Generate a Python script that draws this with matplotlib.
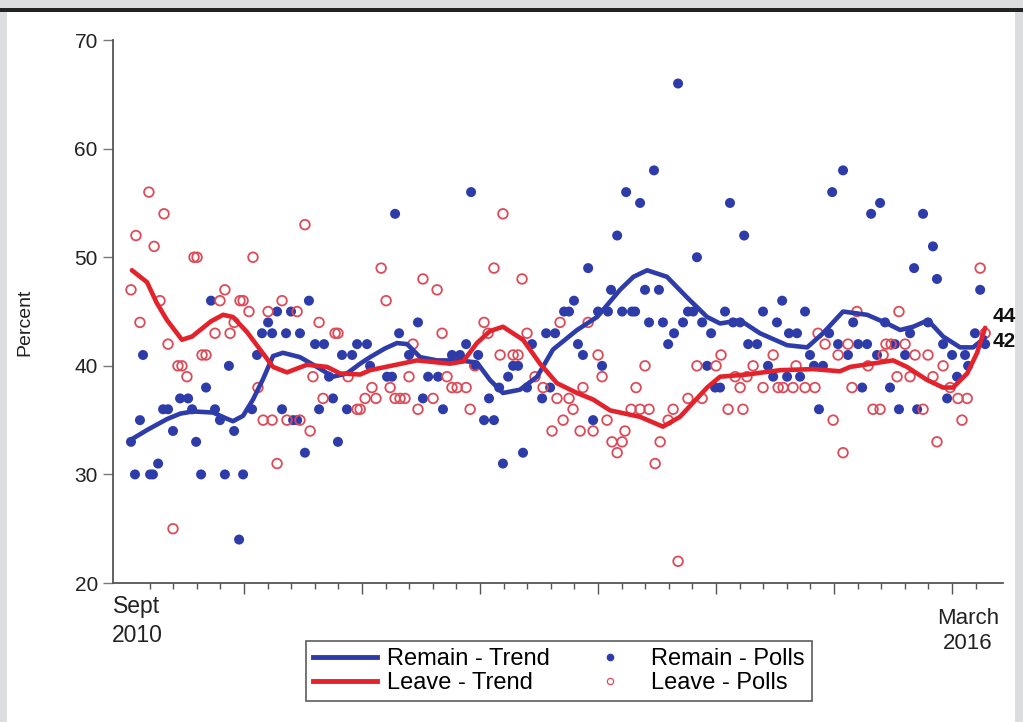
import matplotlib
matplotlib.use("Agg")
import matplotlib.pyplot as plt
from matplotlib.lines import Line2D
from matplotlib.patches import Rectangle

plt.rcParams['font.family'] = ['Liberation Sans', 'DejaVu Sans']

# x = time index (one unit per minor tick), y = percent
remain_t = [0.21, 0.38, 0.59, 0.72, 1.02, 1.14, 1.36, 1.57, 1.78, 1.99,
            2.29, 2.63, 2.80, 2.97, 3.18, 3.39, 3.60, 3.77, 3.98, 4.19,
            4.36, 4.58, 4.79, 4.96, 5.34, 5.55, 5.76, 6.02, 6.19, 6.40,
            6.61, 6.78, 6.99, 7.08, 7.25, 7.37, 7.58, 7.75, 8.01, 8.18,
            8.39, 8.60, 8.77, 8.98, 9.15, 9.36, 9.58, 9.79, 10.21, 10.34,
            11.06, 11.27, 11.40, 11.57, 11.99, 12.37, 12.58, 12.80, 13.22, 13.43,
            13.81, 14.15, 14.41, 14.62, 14.75, 14.92, 15.17, 15.38, 15.59, 15.81,
            15.97, 16.19, 16.40, 16.61, 16.82, 16.99, 17.20, 17.63, 17.80, 17.97,
            18.18, 18.56, 18.77, 18.98, 19.15, 19.36, 19.58, 19.79, 20.00, 20.17,
            20.42, 20.55, 20.81, 21.02, 21.19, 21.44, 21.57, 21.78, 21.99, 22.16,
            22.37, 22.58, 22.75, 22.97, 23.22, 23.39, 23.60, 23.81, 24.03, 24.19,
            24.41, 24.62, 24.79, 24.96, 25.17, 25.38, 25.59, 25.72, 26.02, 26.19,
            26.36, 26.74, 26.99, 27.20, 27.42, 27.58, 27.80, 28.01, 28.09, 28.43,
            28.56, 28.77, 28.98, 29.15, 29.36, 29.53, 29.79, 29.92, 30.17, 30.38,
            30.59, 30.81, 31.02, 31.19, 31.40, 31.57, 31.82, 31.95, 32.16, 32.37,
            32.58, 32.75, 33.01, 33.22, 33.39, 33.52, 33.77, 33.98, 34.19, 34.36,
            34.62, 34.79, 35.00, 35.21, 35.55, 35.68, 35.97, 36.19, 36.40]
remain_v = [33, 30, 35, 41, 30, 30, 31, 36, 36, 34,
            37, 37, 36, 33, 30, 38, 46, 36, 35, 30,
            40, 34, 24, 30, 36, 41, 43, 44, 43, 45,
            36, 43, 45, 35, 35, 43, 32, 46, 42, 36,
            42, 39, 37, 33, 41, 36, 41, 42, 42, 40,
            39, 39, 54, 43, 41, 44, 37, 39, 39, 36,
            41, 41, 42, 56, 40, 41, 35, 37, 35, 38,
            31, 39, 40, 40, 32, 38, 42, 37, 43, 38,
            43, 45, 45, 46, 42, 41, 49, 35, 45, 40,
            45, 47, 52, 45, 56, 45, 45, 55, 47, 44,
            58, 47, 44, 42, 43, 66, 44, 45, 45, 50,
            44, 40, 43, 38, 38, 45, 55, 44, 44, 52,
            42, 42, 45, 40, 39, 44, 46, 39, 43, 43,
            39, 45, 41, 40, 36, 40, 43, 56, 42, 58,
            41, 44, 42, 38, 42, 54, 41, 55, 44, 38,
            42, 36, 41, 43, 49, 36, 54, 44, 51, 48,
            42, 37, 41, 39, 41, 40, 43, 47, 42]

leave_t = [0.21, 0.42, 0.59, 0.97, 1.19, 1.44, 1.61, 1.78, 1.99, 2.20,
           2.37, 2.58, 2.88, 3.01, 3.22, 3.39, 3.77, 3.98, 4.19, 4.41,
           4.58, 4.83, 4.96, 5.21, 5.38, 5.59, 5.81, 6.02, 6.19, 6.40,
           6.61, 6.82, 7.25, 7.37, 7.58, 7.80, 7.92, 8.18, 8.35, 8.86,
           8.98, 9.41, 9.79, 9.92, 10.13, 10.42, 10.59, 10.81, 11.02, 11.19,
           11.40, 11.61, 11.82, 11.99, 12.16, 12.37, 12.58, 13.01, 13.18, 13.39,
           13.60, 13.81, 14.03, 14.41, 14.58, 14.79, 15.17, 15.34, 15.59, 15.85,
           15.97, 16.40, 16.61, 16.78, 16.99, 17.33, 17.67, 18.05, 18.26, 18.39,
           18.52, 18.77, 18.94, 19.24, 19.36, 19.58, 19.79, 20.00, 20.17, 20.38,
           20.59, 20.81, 21.02, 21.14, 21.40, 21.61, 21.78, 21.99, 22.16, 22.42,
           22.63, 22.97, 23.18, 23.39, 23.81, 24.19, 24.41, 25.00, 25.21, 25.51,
           25.81, 26.02, 26.14, 26.31, 26.57, 26.99, 27.42, 27.63, 27.84, 28.26,
           28.39, 28.77, 29.19, 29.32, 29.62, 29.96, 30.17, 30.38, 30.59, 30.76,
           30.97, 31.44, 31.65, 31.95, 32.08, 32.20, 32.42, 32.67, 32.75, 33.01,
           33.22, 33.43, 33.77, 33.98, 34.19, 34.36, 34.62, 34.92, 35.25, 35.42,
           35.64, 36.19, 36.40]
leave_v = [47, 52, 44, 56, 51, 46, 54, 42, 25, 40,
           40, 39, 50, 50, 41, 41, 43, 46, 47, 43,
           44, 46, 46, 45, 50, 38, 35, 45, 35, 31,
           46, 35, 45, 35, 53, 34, 39, 44, 37, 43,
           43, 39, 36, 36, 37, 38, 37, 49, 46, 38,
           37, 37, 37, 39, 42, 36, 48, 37, 47, 43,
           39, 38, 38, 38, 36, 40, 44, 43, 49, 41,
           54, 41, 41, 48, 43, 39, 38, 34, 37, 44,
           35, 37, 36, 34, 38, 44, 34, 41, 39, 35,
           33, 32, 33, 34, 36, 38, 36, 40, 36, 31,
           33, 35, 36, 22, 37, 40, 37, 40, 41, 36,
           39, 38, 36, 39, 40, 38, 41, 38, 38, 38,
           40, 38, 38, 43, 42, 35, 41, 32, 42, 38,
           45, 40, 36, 36, 41, 42, 42, 39, 45, 42,
           39, 41, 36, 41, 39, 33, 40, 38, 37, 35,
           37, 49, 43]

# smoothed trend lines
remain_trend_t = [0.21, 0.90, 1.74, 2.30, 2.84, 3.69, 4.20, 4.53, 4.96, 5.38,
                  5.81, 6.23, 6.65, 7.37, 8.09, 8.77, 9.36, 9.92, 10.34, 10.97,
                  11.48, 11.91, 12.46, 13.18, 14.15, 14.87, 15.42, 15.97, 16.69, 17.42,
                  18.09, 19.11, 19.96, 20.93, 21.50, 22.08, 22.92, 23.77, 24.62, 25.17,
                  26.02, 26.86, 28.01, 28.86, 29.53, 30.38, 31.40, 32.25, 32.80, 33.35,
                  33.98, 34.62, 35.34, 35.89, 36.40]
remain_trend_v = [33.2, 34.1, 35.1, 35.6, 35.8, 35.7, 35.2, 34.9, 35.4, 36.9,
                  38.8, 40.9, 41.2, 40.8, 39.9, 39.0, 39.3, 40.2, 40.8, 41.6,
                  42.1, 42.0, 40.8, 40.5, 40.5, 40.3, 38.7, 37.5, 37.8, 39.0,
                  41.5, 43.3, 44.5, 47.0, 48.2, 48.8, 48.2, 46.3, 44.5, 43.9,
                  44.2, 43.0, 41.9, 41.7, 43.0, 45.0, 44.7, 43.9, 43.3, 43.6,
                  44.2, 42.7, 41.7, 41.7, 42.6]

leave_trend_t = [0.25, 0.89, 1.30, 1.74, 2.37, 2.80, 3.14, 3.60, 4.11, 4.53,
                 5.13, 5.68, 6.23, 6.82, 7.67, 8.52, 9.07, 9.92, 10.34, 12.33,
                 13.73, 14.28, 14.87, 15.42, 15.97, 16.82, 17.54, 18.26, 19.11, 19.79,
                 20.51, 21.78, 22.75, 23.47, 24.62, 25.17, 26.31, 27.71, 29.11, 30.25,
                 30.68, 32.50, 33.09, 33.94, 34.62, 35.04, 35.64, 36.06, 36.40]
leave_trend_v = [48.8, 47.7, 45.8, 44.2, 42.4, 42.7, 43.3, 44.1, 44.7, 44.5,
                 43.1, 41.5, 39.9, 39.4, 40.1, 39.9, 39.3, 39.2, 39.6, 40.5,
                 40.2, 40.4, 42.1, 43.2, 43.6, 42.4, 40.2, 38.4, 37.5, 36.9,
                 35.9, 35.3, 34.4, 35.3, 38.0, 39.0, 39.2, 39.6, 39.7, 39.5,
                 39.9, 40.5, 39.9, 38.7, 38.0, 38.0, 39.3, 41.2, 43.5]

blue = '#2e3caa'
red = '#e3222b'
ring = '#de4b58'

fig = plt.figure(figsize=(10.23, 7.22), dpi=100, facecolor='#dcdddf')
# white page area and dark rule at top (screenshot frame)
fig.patches.append(Rectangle((7 / 1023, 0), 1008 / 1023, 710 / 722,
                             transform=fig.transFigure, facecolor='white',
                             edgecolor='none', zorder=-10))
fig.patches.append(Rectangle((0, 1 - 12 / 722), 1, 4 / 722,
                             transform=fig.transFigure, facecolor='#222222',
                             edgecolor='none', zorder=-10))

ax = fig.add_axes([0.1105, 0.1925, 0.870, 0.752])
ax.set_facecolor('none')

ax.scatter(remain_t, remain_v, s=52, color=blue, edgecolors='none', zorder=2)
ax.scatter(leave_t, leave_v, s=48, facecolors='none', edgecolors=ring,
           linewidths=1.3, zorder=2)
ax.plot(remain_trend_t, remain_trend_v, color=blue, lw=3.3, zorder=3,
        solid_capstyle='round', solid_joinstyle='round')
ax.plot(leave_trend_t, leave_trend_v, color=red, lw=3.3, zorder=3,
        solid_capstyle='round', solid_joinstyle='round')

ax.text(36.7, 44.5, '44', fontsize=15, fontweight='bold', va='center',
        ha='left', clip_on=False, color='#111111')
ax.text(36.7, 42.2, '42', fontsize=15, fontweight='bold', va='center',
        ha='left', clip_on=False, color='#111111')

ax.set_xlim(-0.55, 37.16)
ax.set_ylim(20, 70)
ax.set_yticks([20, 30, 40, 50, 60, 70])
ax.set_xticks([5, 10, 15, 20, 25, 30, 35])
ax.set_xticks([i for i in range(1, 37) if i % 5 != 0], minor=True)
ax.set_xticklabels([])

for s in ['top', 'right']:
    ax.spines[s].set_visible(False)
for s in ['left', 'bottom']:
    ax.spines[s].set_color('#555555')
    ax.spines[s].set_linewidth(1.3)

ax.tick_params(axis='y', length=7, width=1.0, color='#777777',
               labelsize=15, labelcolor='#222222', pad=4)
ax.tick_params(axis='x', which='major', length=8, width=1.0, color='#555555')
ax.tick_params(axis='x', which='minor', length=4, width=1.0, color='#555555')

fig.text(25 / 1023, 1 - 322 / 722, 'Percent', rotation=90, fontsize=14,
         ha='center', va='center', color='#222222')
fig.text(137 / 1023, 1 - 621 / 722, 'Sept\n2010', fontsize=16.5, ha='center',
         va='center', linespacing=1.3, color='#222222')
fig.text(968 / 1023, 1 - 631 / 722, 'March\n2016', fontsize=16, ha='center',
         va='center', linespacing=1.3, color='#222222')

handles = [Line2D([], [], color=blue, lw=3.5),
           Line2D([], [], color=red, lw=3.5),
           Line2D([], [], color=blue, marker='o', ls='none', markersize=4.5),
           Line2D([], [], color=ring, marker='o', ls='none', markersize=4.5,
                  markerfacecolor='none', markeredgewidth=0.9)]
labels = ['Remain - Trend', 'Leave - Trend', 'Remain - Polls', 'Leave - Polls']
leg = fig.legend(handles, labels, ncol=2, loc='center',
                 bbox_to_anchor=(310 / 1023, 17 / 722, 498 / 1023, 68 / 722),
                 fontsize=17, frameon=True, fancybox=False, handlelength=2.7,
                 handletextpad=0.4, columnspacing=1.2, labelspacing=0.1,
                 borderpad=0.3)
leg.get_frame().set_edgecolor('#333333')
leg.get_frame().set_linewidth(1.2)

fig.savefig('out.png', dpi=100, facecolor=fig.get_facecolor())
